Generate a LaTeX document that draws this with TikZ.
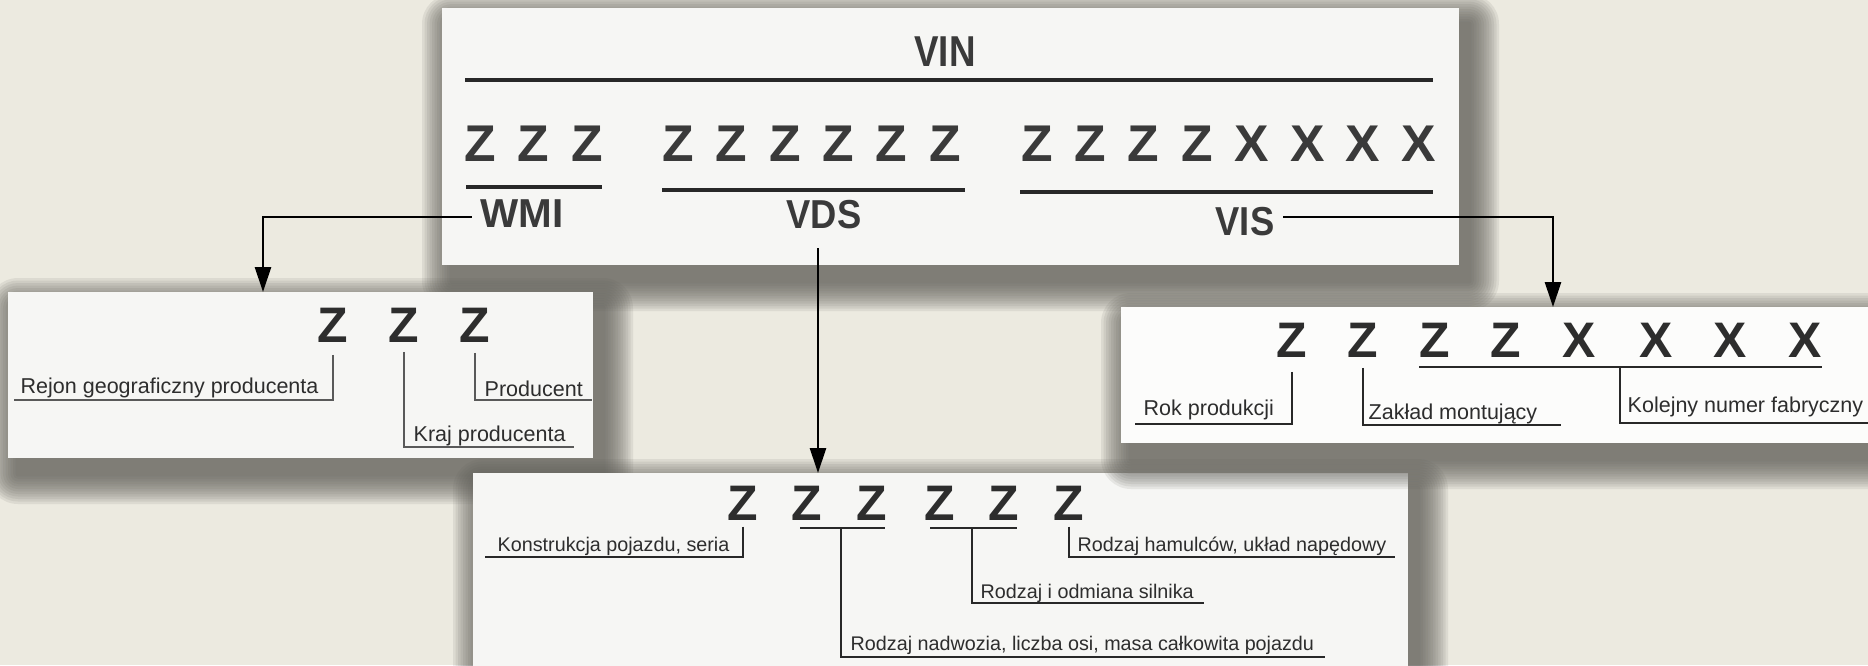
\documentclass[tikz,border=0pt]{standalone}
\usepackage{fontspec}
\setmainfont{Liberation Sans}
\usetikzlibrary{arrows.meta}
\definecolor{bgc}{RGB}{236,234,224}
\definecolor{panelc}{RGB}{246,246,244}
\definecolor{panelw}{RGB}{252,252,251}
\definecolor{shadowc}{RGB}{95,94,89}
\definecolor{inkc}{RGB}{58,58,58}
\definecolor{darkc}{RGB}{45,45,45}
\definecolor{linec}{RGB}{40,40,40}
\newcommand\softshadowbox[4]{%
  \foreach \i in {1,...,12}{%
    \pgfmathsetmacro\e{\i*2.5}%
    \pgfmathsetmacro\r{\e*0.1}%
    \fill[shadowc,fill opacity=0.11,rounded corners=\r mm]
      ({#1+10-\e},{#2+16-\e}) rectangle ({#3+10+\e},{#4+16+\e});
  }}
\tikzset{
  panel/.style={fill=#1, draw=none, inner sep=0pt, outer sep=0pt, anchor=north west},
  bigtop/.style={font=\fontsize{14.7pt}{15pt}\selectfont\bfseries, text=inkc, inner sep=0pt},
  bigsub/.style={font=\fontsize{14.2pt}{15pt}\selectfont\bfseries, text=darkc, inner sep=0pt},
  toplab/.style={font=\fontsize{11.5pt}{12pt}\selectfont\bfseries, text=inkc, inner xsep=0.8mm, inner ysep=0pt},
  lab/.style={font=\fontsize{6.12pt}{7pt}\selectfont, text=darkc, inner sep=0pt, anchor=base west},
  labs/.style={font=\fontsize{5.62pt}{6.5pt}\selectfont, text=darkc, inner sep=0pt, anchor=base west},
  rule/.style={line width=0.9pt, draw=linec},
  uline/.style={line width=0.55pt, draw=linec},
  brk/.style={line width=0.45pt, draw=linec},
  brkg/.style={line width=0.35pt, draw=black!65},
  conn/.style={line width=0.75pt, draw=black, -{Triangle[width=1.6mm,length=2.5mm]}},
}
\begin{document}
\begin{tikzpicture}[x=0.1mm,y=-0.1mm]
\useasboundingbox (0,0) rectangle (1868,665);
\clip (0,0) rectangle (1868,665);
\fill[bgc] (0,0) rectangle (1868,665);

% shadows and panels
\softshadowbox{442}{8}{1459}{265}
\softshadowbox{8}{292}{593}{458}
\softshadowbox{473}{473}{1408}{700}
\node[panel=panelc, minimum width=101.7mm, minimum height=25.7mm] (topbox) at (442,8) {};
\node[panel=panelc, minimum width=58.5mm, minimum height=16.6mm] (llbox) at (8,292) {};
\node[panel=panelc, minimum width=93.5mm, minimum height=22.7mm] (bbox) at (473,473) {};
\softshadowbox{1121}{307}{1900}{443}
\node[panel=panelw, minimum width=77.9mm, minimum height=13.6mm] (rbox) at (1121,307) {};

% ---------- top box ----------
\node[toplab, font=\fontsize{12.3pt}{13pt}\selectfont\bfseries] (vin) at (945,52) {\scalebox{0.85}[1]{VIN}};
\draw[rule] (465,80) -- (1433,80);
\foreach \x [count=\i] in {480,533,587}
  \node[bigtop] (tw\i) at (\x,143.5) {Z};
\foreach \x [count=\i] in {678,731,785,838,891,945}
  \node[bigtop] (td\i) at (\x,143.5) {Z};
\foreach \x/\c [count=\i] in {1037/Z,1090/Z,1143/Z,1197/Z,1252/X,1308/X,1363/X,1419/X}
  \node[bigtop] (ts\i) at (\x,143.5) {\c};
\draw[rule] (466,187) -- (602,187);
\draw[rule] (662,190) -- (965,190);
\draw[rule] (1020,192) -- (1433,192);
\node[toplab] (wmi) at (522,214) {WMI};
\node[toplab] (vds) at (824,215) {\scalebox{0.9}[1]{VDS}};
\node[toplab] (vis) at (1245,222) {\scalebox{0.9}[1]{VIS}};

% ---------- lower-left box ----------
\foreach \x [count=\i] in {333,404,475}
  \node[bigsub] (l\i) at (\x,325) {Z};
\node[lab] (rejon) at (20,393) {Rejon geograficzny producenta};
\node[lab] (kraj) at (413,441) {Kraj producenta};
\node[lab] (prod) at (484,396) {Producent};
\draw[brkg] ([yshift=-1.2mm]l1.south) |- ([xshift=-0.6mm,yshift=-0.7mm]rejon.base west);
\draw[brkg] ([yshift=-0.9mm]l2.south) |- ([xshift=0.8mm,yshift=-0.6mm]kraj.base east);
\draw[brkg] ([yshift=-1.0mm]l3.south) |- ([xshift=0.9mm,yshift=-0.4mm]prod.base east);

% ---------- right box ----------
\foreach \x/\c [count=\i] in {1292/Z,1363/Z,1435/Z,1506/Z,1579/X,1656/X,1730/X,1805/X}
  \node[bigsub] (r\i) at (\x,340) {\c};
\node[lab] (rok) at (1143,415) {Rok produkcji};
\node[lab] (zak) at (1368,419) {Zakład montujący};
\node[lab] (kol) at (1627,412) {Kolejny numer fabryczny};
\draw[uline] ([yshift=-0.9mm]r3.south west) -- ([yshift=-0.9mm]r8.south east);
\coordinate (kolTop) at (1620,367);
\draw[brk] ([yshift=-1.4mm]r1.south) |- ([xshift=-0.8mm,yshift=-0.9mm]rok.base west);
\draw[brk] ([yshift=-1.0mm]r2.south) |- ([xshift=2.35mm,yshift=-0.6mm]zak.base east);
\draw[brk] (kolTop) |- ([xshift=1mm,yshift=-1.1mm]kol.base east);

% ---------- bottom box ----------
\foreach \x [count=\i] in {743,807,872,940,1004,1069}
  \node[bigsub] (b\i) at (\x,503.3) {Z};
\node[labs] (kon) at (497,551.7) {Konstrukcja pojazdu, seria};
\node[labs] (ham) at (1077,551.7) {Rodzaj hamulców, układ napędowy};
\node[labs] (sil) at (980,598) {Rodzaj i odmiana silnika};
\node[labs] (nad) at (850,650) {Rodzaj nadwozia, liczba osi, masa całkowita pojazdu};
\draw[uline] (800,528) -- (885,528);
\draw[uline] (930,528) -- (1017,528);
\coordinate (nadTop) at (841,528);
\coordinate (silTop) at (972,528);
\draw[brk] ([yshift=-0.55mm]b1.south) |- ([xshift=-1.2mm,yshift=-0.5mm]kon.base west);
\draw[brk] (nadTop) |- ([xshift=1mm,yshift=-0.7mm]nad.base east);
\draw[brk] (silTop) |- ([xshift=1mm,yshift=-0.5mm]sil.base east);
\draw[brk] ([yshift=-0.55mm]b6.south) |- ([xshift=0.85mm,yshift=-0.5mm]ham.base east);

% ---------- connectors ----------
\draw[conn] ([yshift=-0.3mm]wmi.west) -| ([xshift=25.5mm]llbox.north west);
\draw[conn, shorten <=1.8mm] ([xshift=-0.6mm]vds.south) -- ([xshift=-0.6mm]vds.south |- bbox.north);
\draw[conn] ([yshift=0.5mm]vis.east) -| ([xshift=43.2mm]rbox.north west);
\end{tikzpicture}
\end{document}
